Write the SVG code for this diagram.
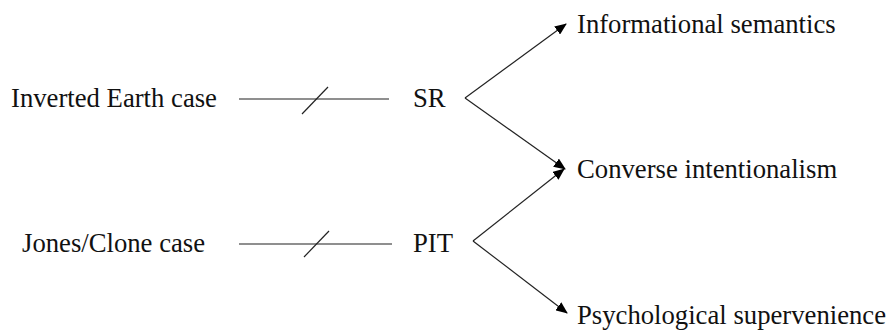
<svg xmlns="http://www.w3.org/2000/svg" width="893" height="331" viewBox="0 0 893 331">
<style>
text{font-family:"Liberation Serif","Times New Roman",serif;font-size:26.7px;fill:#111}
.h{stroke:#6a6a6a;stroke-width:1.5;fill:none}
.s{stroke:#222;stroke-width:1.2;fill:none}
.a{stroke:#222;stroke-width:1.2;fill:none;marker-end:url(#ah)}
</style>
<defs>
<marker id="ah" markerWidth="12" markerHeight="10" refX="11" refY="5" orient="auto" markerUnits="userSpaceOnUse">
<path d="M0,0 L12,5 L0,10 Z" fill="#000"/>
</marker>
</defs>
<rect width="893" height="331" fill="#fff"/>
<g id="inverted"><text x="11" y="107">Inverted Earth case</text></g>
<g id="jones"><text x="22" y="252">Jones/Clone case</text></g>
<g id="sr"><text x="413" y="107">SR</text></g>
<g id="pit"><text x="413" y="252">PIT</text></g>
<g id="informational"><text x="577" y="33">Informational semantics</text></g>
<g id="converse"><text x="577" y="178">Converse intentionalism</text></g>
<g id="psychological"><text x="577" y="324">Psychological supervenience</text></g>
<g id="connectors">
<line class="h" x1="239" y1="99" x2="389" y2="99"/>
<line class="s" x1="302" y1="114" x2="328" y2="87"/>
<line class="h" x1="239" y1="244" x2="392" y2="244"/>
<line class="s" x1="304" y1="257" x2="329" y2="231"/>
<line class="a" x1="465" y1="98" x2="566" y2="24"/>
<line class="a" x1="465" y1="98" x2="565" y2="169"/>
<line class="a" x1="473" y1="241" x2="564" y2="169"/>
<line class="a" x1="473" y1="241" x2="567" y2="313"/>
</g>
</svg>
